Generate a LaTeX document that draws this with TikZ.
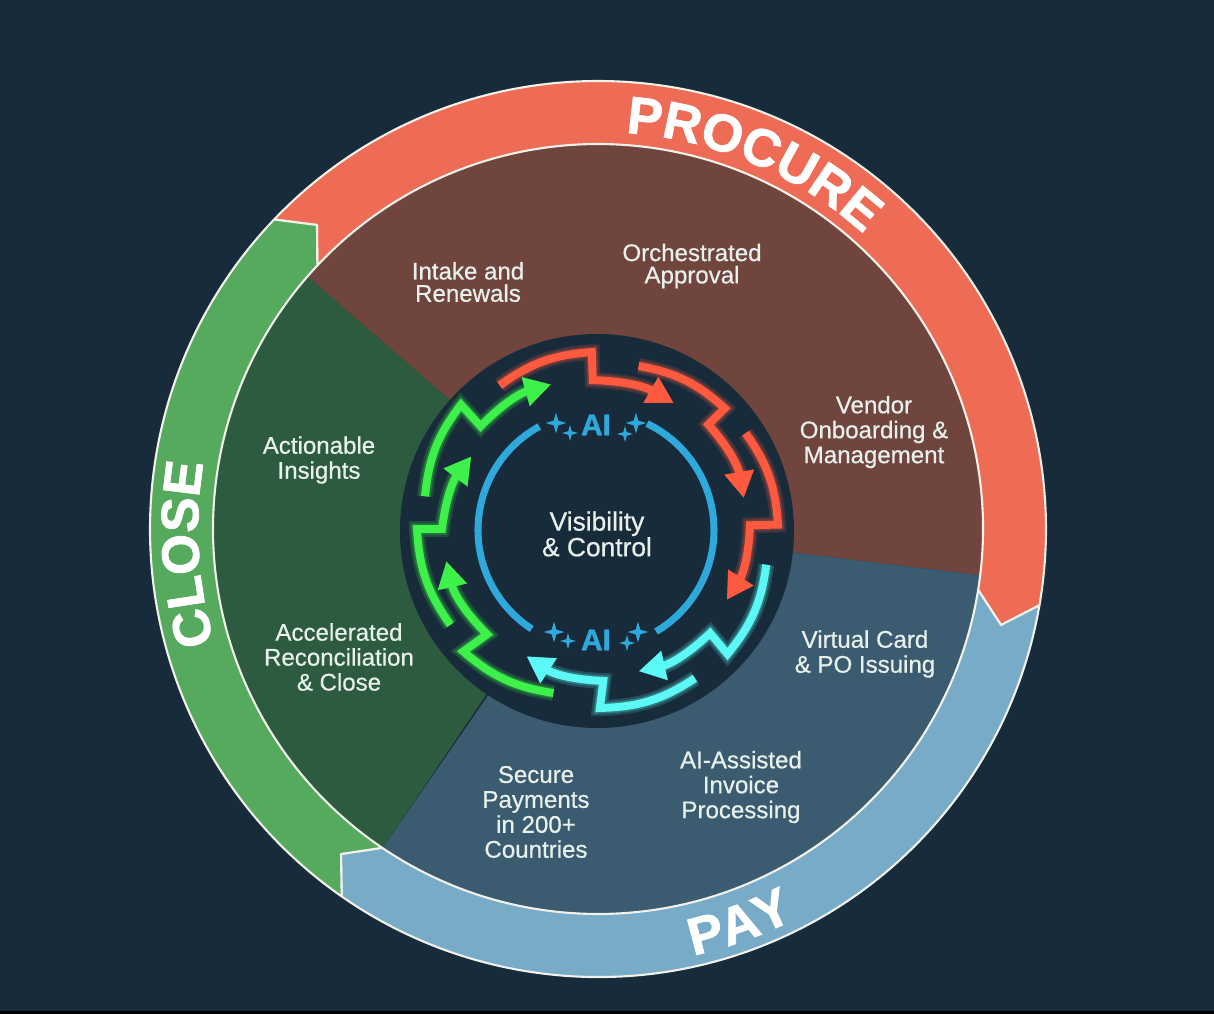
\documentclass[tikz,border=0pt]{standalone}
\usepackage{fontspec}
\setmainfont{Liberation Sans}
\newfontfamily\medfont[FakeBold=0.6]{Liberation Sans}
\newfontfamily\heavyfont[FakeBold=1.4]{Liberation Sans Bold}
\usetikzlibrary{arrows.meta,shapes.geometric,decorations.text}
\definecolor{bgdark}{HTML}{172B3A}
\definecolor{ringred}{HTML}{EE6C55}
\definecolor{ringblue}{HTML}{78ABC8}
\definecolor{ringgreen}{HTML}{55AA5E}
\definecolor{wedgered}{HTML}{70453E}
\definecolor{wedgeblue}{HTML}{3B5C70}
\definecolor{wedgegreen}{HTML}{2C5B40}
\definecolor{aiblue}{HTML}{2FA9DC}
\definecolor{neonred}{HTML}{FF5A40}
\definecolor{neoncyan}{HTML}{5CF8F5}
\definecolor{neongreen}{HTML}{3DF04A}
\definecolor{rimwhite}{HTML}{F1F1EA}
\definecolor{labelwhite}{HTML}{E8F0EC}
\tikzset{
  ring/.style={fill=#1,draw=rimwhite,line width=1.2pt,line join=round},
  neon/.style={draw=#1,line width=4.5pt,miter limit=10,
    -{Triangle[length=15pt,width=16pt]},
    preaction={draw=#1,line width=9pt,opacity=.18},
    preaction={draw=#1,line width=6.5pt,opacity=.25}},
  lbl/.style={text=labelwhite,align=center,font=\medfont\fontsize{13.7pt}{14.2pt}\selectfont},
  ailbl/.style={text=aiblue,font=\heavyfont\fontsize{17pt}{17pt}\selectfont},
  sparkle/.style={star,star points=4,star point ratio=3.2,fill=aiblue,inner sep=0pt,minimum size=#1},
  aiarc/.style={draw=aiblue,line width=4pt},
  bigword/.style={decorate,decoration={text along path,text align=center,text color=white,
    text={|\heavyfont\fontsize{30pt}{30pt}\selectfont|#1}}}
}
\begin{document}
\begin{tikzpicture}[x=.02cm,y=.02cm]
\fill[bgdark] (-598,529) rectangle (616,-485);
\fill[black] (-598,-482) rectangle (616,-485);
% wedges
\coordinate (rb) at (-6.9:385);
\coordinate (rg) at (139:385);
\coordinate (bg) at (236:385);
\fill[wedgered] (rg) arc[start angle=139,end angle=-6.9,radius=385] -- (0,0) -- cycle;
\fill[wedgeblue] (rb) arc[start angle=-6.9,end angle=-124,radius=385] -- (-111,-168) -- (0,0) -- cycle;
\fill[wedgegreen] (bg) arc[start angle=236,end angle=139,radius=385] -- (0,0) -- cycle;
% outer ring
\coordinate (redtip) at (403,-96);
\coordinate (bluetip) at (-257,-325);
\coordinate (greentip) at (-281,304);
\draw[ring=ringred] (136.3:448) arc[start angle=136.3,end angle=-9.8,radius=448] -- (redtip) -- (-9.1:385) arc[start angle=-9.1,end angle=136.8,radius=385] -- (greentip) -- cycle;
\draw[ring=ringblue] (-9.8:448) arc[start angle=-9.8,end angle=-124.9,radius=448] -- (bluetip) -- (-124.1:385) arc[start angle=-124.1,end angle=-9.1,radius=385] -- (redtip) -- cycle;
\draw[ring=ringgreen] (235.1:448) arc[start angle=235.1,end angle=136.3,radius=448] -- (greentip) -- (136.8:385) arc[start angle=136.8,end angle=235.9,radius=385] -- (bluetip) -- cycle;
\path[bigword=PROCURE] (88:397) arc[start angle=88,end angle=46,radius=397];
\path[bigword=CLOSE] (198:400) arc[start angle=198,end angle=169,radius=400];
\path[bigword=PAY] (-80.3:437) arc[start angle=-80.3,end angle=-60.3,radius=437];
% labels
\node[lbl] (intake) at (-130,247) {Intake and\\[-1.5pt]Renewals};
\node[lbl] (approval) at (94,263) {Orchestrated\\[-1.5pt]Approval};
\node[lbl] (vendor) at (276,97) {Vendor\\Onboarding \&\\Management};
\node[lbl] (insights) at (-279,69) {Actionable\\Insights};
\node[lbl] (recon) at (-259,-128) {Accelerated\\Reconciliation\\\& Close};
\node[lbl] (vcard) at (267,-125) {Virtual Card\\\& PO Issuing};
\node[lbl] (invoice) at (143,-258) {AI-Assisted\\Invoice\\Processing};
\node[lbl] (secure) at (-62,-283) {Secure\\Payments\\in 200+\\Countries};
% centre disc
\fill[bgdark] (-1,-2) circle (197);
\draw[neon=neonred] (124.4:174) to[bend left=16] (92:177) -- (92:149) to[bend left=14] (59:147);
\draw[neon=neonred] (76:168) to[bend left=16] (43.6:175) -- (43.4:152) to[bend left=15.7] (12:149);
\draw[neon=neonred] (33:176) to[bend left=16] (1.4:180) -- (1.4:152) to[bend left=15] (-28.8:147);
\draw[neon=neoncyan] (-12:172) to[bend left=16] (-44:180) -- (-42.9:153) to[bend left=15.5] (-74:148);
\draw[neon=neoncyan] (-57:178) to[bend left=16] (-89.4:179) -- (-88:152) to[bend left=15.6] (-119.3:146);
\draw[neon=neongreen] (-105.2:170) to[bend left=16] (-137.7:182) -- (-136.5:153) to[bend left=16] (-168:155);
\draw[neon=neongreen] (-147:176) to[bend left=16] (-180:181) -- (-180:156) to[bend left=15] (150.2:146);
\draw[neon=neongreen] (169.3:176) to[bend left=16] (137.8:185) -- (138.8:156) to[bend left=15] (108:152);
% inner ring
\draw[aiarc] (-2,-1) ++(64.4:118) arc[start angle=64.4,end angle=-59.4,radius=118];
\draw[aiarc] (-2,-1) ++(118.7:118) arc[start angle=118.7,end angle=237,radius=118];
\node[lbl,font=\medfont\fontsize{15pt}{14.6pt}\selectfont] (core) at (-1,-5) {Visibility\\\& Control};
\node[ailbl] (aitop) at (-2,104) {AI};
\node[ailbl] (aibot) at (-2,-111) {AI};
\node[sparkle=21*.02cm] (st1) at (-42,106) {};
\node[sparkle=16*.02cm] (st2) at (-28,96) {};
\node[sparkle=21*.02cm] (st3) at (38,106) {};
\node[sparkle=16*.02cm] (st4) at (27,95) {};
\node[sparkle=21*.02cm] (sb1) at (-44,-103) {};
\node[sparkle=16*.02cm] (sb2) at (-30,-112) {};
\node[sparkle=21*.02cm] (sb3) at (40,-103) {};
\node[sparkle=16*.02cm] (sb4) at (29,-114) {};
\end{tikzpicture}
\end{document}
